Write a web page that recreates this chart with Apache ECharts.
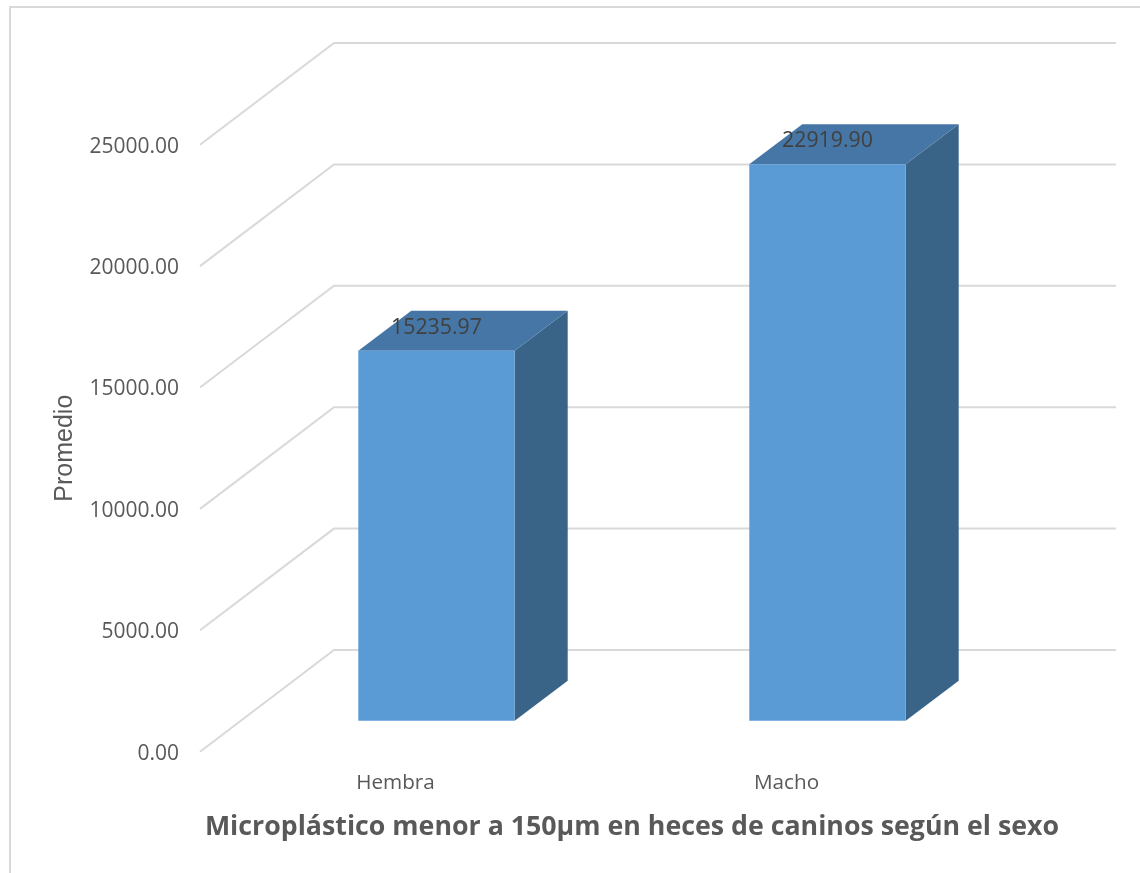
<!DOCTYPE html>
<html>
<head>
<meta charset="utf-8">
<style>html,body{margin:0;padding:0;background:#fff;overflow:hidden}#c{width:1140px;height:873px}</style>
<script src="https://cdn.jsdelivr.net/npm/echarts@6/dist/echarts.min.js"></script>
</head>
<body>
<div id="c"></div>
<script>
const categories = ['Hembra', 'Macho'];
const promedio = [15235.97, 22919.90];
const yTicks = [0, 5000, 10000, 15000, 20000, 25000];
const titleText = 'Microplástico menor a 150µm en heces de caninos según el sexo';
const yName = 'Promedio';

const FONT = '"Open Sans"';
const WALL = [134, -101.7];       // oblique offset of the back wall
const BAR_FRONT = [41, -31];      // bar front face relative to the axis plane
const BAR_DEPTH = [53, -40];      // bar depth
const BAR_RATIO = 0.4;

const chart = echarts.init(document.getElementById('c'), null, {renderer: 'canvas'});
chart.setOption({
  animation: false,
  backgroundColor: '#fff',
  title: {
    text: titleText, left: 627, top: 809, textAlign: 'center',
    textStyle: {fontFamily: FONT, fontSize: 26.75, fontWeight: 'bold', color: '#595959'}
  },
  graphic: [{
    type: 'rect', z: -10, silent: true, x: 10, y: 7,
    shape: {x: 0, y: 0, width: 1300, height: 1100},
    style: {fill: 'none', stroke: '#d9d9d9', lineWidth: 2}
  }],
  grid: {left: 200, width: 782, top: 144.7, height: 607},
  xAxis: {
    type: 'category', data: categories,
    axisLine: {show: false}, axisTick: {show: false}, splitLine: {show: false},
    axisLabel: {margin: 21, fontFamily: FONT, fontSize: 20.7, color: '#595959'}
  },
  yAxis: {
    type: 'value', min: 0, max: 25000, interval: 5000,
    name: yName, nameLocation: 'middle', nameGap: 122, nameRotate: 90,
    nameTextStyle: {fontFamily: '"Liberation Sans"', fontSize: 25, color: '#595959'},
    axisLine: {show: false}, axisTick: {show: false}, splitLine: {show: false},
    axisLabel: {margin: 21, fontFamily: FONT, fontSize: 21, color: '#595959',
      verticalAlign: 'top', lineHeight: 4,
      formatter: v => v.toFixed(2)}
  },
  series: [{
    type: 'custom', coordinateSystem: 'cartesian2d', clip: false, silent: true, z: 1,
    data: yTicks.map(v => [0, v]),
    encode: {x: 0, y: 1},
    renderItem(params, api) {
      const y = api.coord([0, api.value(1)])[1];
      const cs = params.coordSys;
      return {
        type: 'polyline',
        shape: {points: [
          [cs.x, y],
          [cs.x + WALL[0], y + WALL[1]],
          [cs.x + WALL[0] + cs.width, y + WALL[1]]
        ]},
        style: {fill: 'none', stroke: '#d9d9d9', lineWidth: 2}
      };
    }
  }, {
    type: 'custom', coordinateSystem: 'cartesian2d', clip: false, silent: true, z: 2,
    data: promedio.map((v, i) => [i, v]),
    encode: {x: 0, y: 1},
    renderItem(params, api) {
      const i = api.value(0), v = api.value(1);
      const w = api.size([1, 0])[0] * BAR_RATIO;
      const top = api.coord([i, v]);
      const bot = api.coord([i, 0]);
      const x0 = top[0] - w / 2 + BAR_FRONT[0], x1 = x0 + w;
      const yT = top[1] + BAR_FRONT[1], yB = bot[1] + BAR_FRONT[1];
      const dx = BAR_DEPTH[0], dy = BAR_DEPTH[1];
      return {
        type: 'group',
        children: [
          {type: 'polygon', shape: {points: [[x1, yT], [x1 + dx, yT + dy], [x1 + dx, yB + dy], [x1, yB]]},
            style: {fill: '#396487'}},
          {type: 'polygon', shape: {points: [[x0, yT], [x0 + dx, yT + dy], [x1 + dx, yT + dy], [x1, yT]]},
            style: {fill: '#4576a5'}},
          {type: 'rect', shape: {x: x0, y: yT, width: w, height: yB - yT},
            style: {fill: '#5b9bd5'}},
          {type: 'text', x: (x0 + x1) / 2, y: yT - 23,
            style: {text: v.toFixed(2), fontFamily: FONT, fontSize: 21.3, fill: '#404040',
              align: 'center', verticalAlign: 'middle'}}
        ]
      };
    }
  }]
});
</script>
</body>
</html>
